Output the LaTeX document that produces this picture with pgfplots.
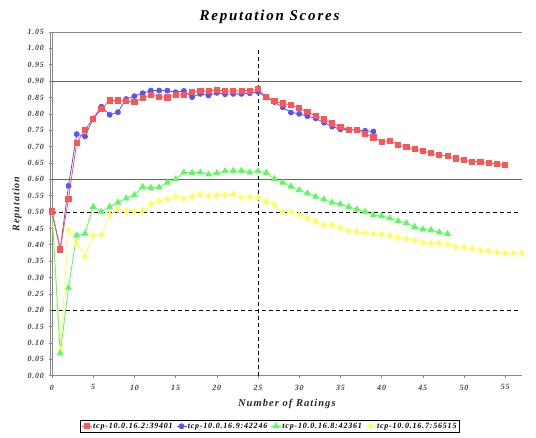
\documentclass[border=0pt]{standalone}
\usepackage{fontspec}
\setmainfont{Liberation Serif}[LetterSpace=10]
\newfontfamily\titlefont{Liberation Serif}[LetterSpace=12]
\usepackage{pgfplots}
\usepackage{pgfplotstable}
\pgfplotsset{compat=1.18}
\definecolor{sred}{HTML}{FF5555}
\definecolor{sblue}{HTML}{5555FF}
\definecolor{sgreen}{HTML}{55FF55}
\definecolor{syellow}{HTML}{FFFF55}
\definecolor{ticktxt}{HTML}{444444}
\definecolor{axgray}{HTML}{888888}

\pgfplotstableread{
x y
0 0.502
1 0.386
2 0.540
3 0.712
4 0.751
5 0.785
6 0.814
7 0.841
8 0.841
9 0.839
10 0.836
11 0.849
12 0.858
13 0.852
14 0.850
15 0.858
16 0.859
17 0.866
18 0.870
19 0.870
20 0.873
21 0.870
22 0.870
23 0.871
24 0.871
25 0.875
26 0.852
27 0.839
28 0.832
29 0.827
30 0.817
31 0.806
32 0.793
33 0.783
34 0.771
35 0.759
36 0.752
37 0.750
38 0.738
39 0.728
40 0.715
41 0.717
42 0.706
43 0.698
44 0.693
45 0.687
46 0.680
47 0.674
48 0.671
49 0.664
50 0.659
51 0.654
52 0.654
53 0.650
54 0.647
55 0.643
}\redtab

\pgfplotstableread{
x y
0 0.500
1 0.386
2 0.580
3 0.738
4 0.731
5 0.786
6 0.822
7 0.797
8 0.805
9 0.845
10 0.854
11 0.863
12 0.871
13 0.871
14 0.871
15 0.866
16 0.870
17 0.851
18 0.861
19 0.856
20 0.864
21 0.860
22 0.861
23 0.861
24 0.863
25 0.867
26 0.850
27 0.836
28 0.820
29 0.804
30 0.800
31 0.793
32 0.786
33 0.773
34 0.761
35 0.753
36 0.752
37 0.750
38 0.748
39 0.746
}\bluetab

\pgfplotstableread{
x y
0 0.500
1 0.068
2 0.269
3 0.429
4 0.434
5 0.516
6 0.501
7 0.516
8 0.529
9 0.542
10 0.552
11 0.577
12 0.574
13 0.575
14 0.590
15 0.600
16 0.621
17 0.620
18 0.621
19 0.615
20 0.619
21 0.625
22 0.626
23 0.626
24 0.621
25 0.625
26 0.620
27 0.601
28 0.590
29 0.578
30 0.567
31 0.557
32 0.547
33 0.539
34 0.529
35 0.524
36 0.516
37 0.508
38 0.501
39 0.491
40 0.488
41 0.481
42 0.473
43 0.466
44 0.455
45 0.447
46 0.445
47 0.438
48 0.433
}\greentab

\pgfplotstableread{
x y
0 0.500
1 0.080
2 0.445
3 0.404
4 0.364
5 0.428
6 0.430
7 0.491
8 0.508
9 0.502
10 0.502
11 0.504
12 0.524
13 0.534
14 0.539
15 0.547
16 0.541
17 0.547
18 0.554
19 0.549
20 0.551
21 0.552
22 0.555
23 0.545
24 0.545
25 0.545
26 0.532
27 0.522
28 0.501
29 0.501
30 0.491
31 0.481
32 0.471
33 0.460
34 0.460
35 0.452
36 0.442
37 0.440
38 0.435
39 0.433
40 0.432
41 0.428
42 0.422
43 0.418
44 0.413
45 0.406
46 0.404
47 0.404
48 0.401
49 0.394
50 0.392
51 0.387
52 0.382
53 0.381
54 0.377
55 0.374
56 0.374
57 0.374
}\yellowtab

\begin{document}
\begin{tikzpicture}
\useasboundingbox (0,0) rectangle (536pt,437pt);
\begin{axis}[
  at={(52pt,61.3pt)}, anchor=south west,
  scale only axis, width=469.7pt, height=343.7pt,
  xmin=0, xmax=57, ymin=0, ymax=1.05,
  axis lines=left, axis line style={-, axgray, line width=0.8pt},
  xtick={0,5,10,15,20,25,30,35,40,45,50,55},
  ytick={0,0.05,0.10,0.15,0.20,0.25,0.30,0.35,0.40,0.45,0.50,0.55,0.60,0.65,0.70,0.75,0.80,0.85,0.90,0.95,1.00,1.05},
  tick align=outside, major tick length=2.5pt,
  tick style={axgray, line width=0.6pt},
  /pgf/number format/assume math mode=true,
  yticklabel style={/pgf/number format/.cd, fixed, fixed zerofill, precision=2, /tikz/.cd, xshift=-2pt},
  xticklabel style={/pgf/number format/.cd, fixed, precision=0, /tikz/.cd, yshift=-3pt},
  ticklabel style={font=\bfseries\itshape\fontsize{8}{9}\selectfont, text=ticktxt},
  title={Reputation Scores},
  title style={at={(axis description cs:0.463,1)}, anchor=center, yshift=9pt,
    font=\titlefont\bfseries\itshape\fontsize{15}{16}\selectfont},
  xlabel={Number of Ratings},
  xlabel style={at={(axis description cs:0.5,0)}, anchor=center, yshift=-28pt,
    font=\bfseries\itshape\fontsize{10.5}{12}\selectfont, text=black!85},
  ylabel={Reputation},
  ylabel style={at={(axis description cs:-0.0745,0.5)}, anchor=center,
    font=\bfseries\itshape\fontsize{10}{12}\selectfont, text=black!85},
  clip=false,
  legend columns=4,
  reverse legend,
  legend style={at={(axis description cs:0.463,-0.129)}, anchor=north,
    draw=black, line width=0.8pt, inner sep=1.5pt,
    nodes={inner sep=0.9pt},
    font=\bfseries\itshape\fontsize{8}{9}\selectfont,
    /tikz/every even column/.append style={column sep=2.5pt}},
  legend image code/.code={\draw[mark repeat=2,mark phase=2, line width=0.8pt] plot coordinates {(0pt,0pt) (5pt,0pt) (10pt,0pt)};},
]
% reference lines
\draw[black!60, line width=0.9pt] (axis cs:0,0.90) -- (axis cs:57,0.90);
\draw[black!60, line width=0.9pt] (axis cs:0,0.60) -- (axis cs:57,0.60);
\draw[black, line width=0.7pt, dash pattern=on 4pt off 3pt] (axis cs:0,0.50) -- (axis cs:56.6,0.50);
\draw[black, line width=0.7pt, dash pattern=on 4pt off 3pt] (axis cs:0,0.20) -- (axis cs:56.6,0.20);
\draw[black, line width=0.7pt, dash pattern=on 4pt off 3pt] (axis cs:25,0) -- (axis cs:25,1.0);
\draw[axgray, line width=0.8pt] (axis cs:0,1.05) -- (axis cs:57,1.05);
\draw[axgray, line width=0.8pt] ([xshift=-2pt]axis cs:0,0) -- ([xshift=-2pt]axis cs:0,1.05);

\addplot[syellow, line width=0.8pt, mark=diamond*, mark size=3pt, mark options={fill=syellow, draw=syellow}] table[x=x,y=y] {\yellowtab};
\addplot[sgreen, line width=0.8pt, mark=triangle*, mark size=3.2pt, mark options={fill=sgreen, draw=sgreen}] table[x=x,y=y] {\greentab};
\addplot[sblue, line width=0.8pt, mark=*, mark size=2.5pt, mark options={fill=sblue, draw=sblue}] table[x=x,y=y] {\bluetab};
\addplot[sred, line width=0.8pt, mark=square*, mark size=2.6pt, mark options={fill=sred, draw=sred}] table[x=x,y=y] {\redtab};
\legend{tcp-10.0.16.7:56515, tcp-10.0.16.8:42361, tcp-10.0.16.9:42246, tcp-10.0.16.2:39401}
\end{axis}
\end{tikzpicture}
\end{document}
